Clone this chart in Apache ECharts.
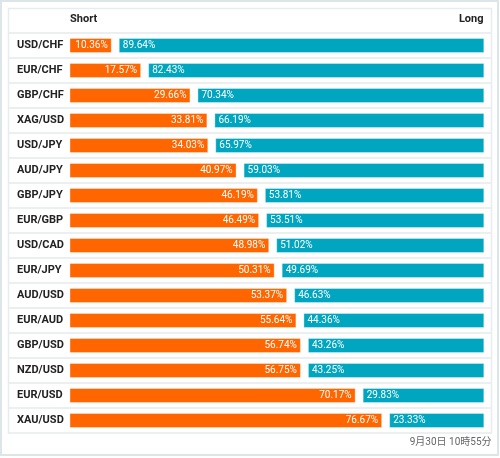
<!DOCTYPE html>
<html><head><meta charset="utf-8">
<script src="https://cdn.jsdelivr.net/npm/echarts@6/dist/echarts.min.js"></script>
<style>html,body{margin:0;padding:0;background:#fff}#c{width:500px;height:458px}</style>
</head><body><div id="c"></div>
<script>
const categories = ['USD/CHF','EUR/CHF','GBP/CHF','XAG/USD','USD/JPY','AUD/JPY','GBP/JPY','EUR/GBP','USD/CAD','EUR/JPY','AUD/USD','EUR/AUD','GBP/USD','NZD/USD','EUR/USD','XAU/USD'];
const shortValues = [10.36,17.57,29.66,33.81,34.03,40.97,46.19,46.49,48.98,50.31,53.37,55.64,56.74,56.75,70.17,76.67];
const longValues  = [89.64,82.43,70.34,66.19,65.97,59.03,53.81,53.51,51.02,49.69,46.63,44.36,43.26,43.25,29.83,23.33];
const headerShort = 'Short';
const headerLong = 'Long';
const timestamp = '9月30日 10時55分';

const GAP = 1.72; // visual spacer between the two bars (axis units)
const font = 'Roboto, "Noto Sans CJK JP", sans-serif';
const gridTop = 33, rowH = 25, n = categories.length;

const graphics = [
  {type:'rect', shape:{x:1,y:1,width:497,height:454}, style:{fill:'#fff', stroke:'#dde5e8', lineWidth:2}, z:-10},
  {type:'rect', shape:{x:8.5,y:8.5,width:483,height:424.5}, style:{fill:'#fff', stroke:'#e8ecee', lineWidth:1.5}, z:-9},
  {type:'text', left:70, top:14, style:{text:headerShort, font:'bold 11px '+font, fill:'#222'}},
  {type:'text', right:16.5, top:14, style:{text:headerLong, font:'bold 11px '+font, fill:'#222'}},
  {type:'text', right:8.5, top:437, style:{text:timestamp, font:'10px '+font, fill:'#666'}}
];
for (let i = 0; i < n; i++) {
  const y = gridTop + i*rowH;
  graphics.push({type:'line', shape:{x1:9,y1:y,x2:491,y2:y}, style:{stroke:'#eceff0', lineWidth:2}, z:-8});
}

const chart = echarts.init(document.getElementById('c'), null, {renderer:'canvas'});
chart.setOption({
  animation:false,
  textStyle:{fontFamily:font},
  grid:{left:69.5, right:15.7, top:gridTop, height:rowH*n, containLabel:false},
  xAxis:{type:'value', min:0, max:100+GAP, show:false},
  yAxis:{type:'category', data:categories, inverse:true,
    axisLine:{show:false}, axisTick:{show:false}, splitLine:{show:false},
    axisLabel:{align:'left', margin:52.5, fontSize:11, fontWeight:'bold', color:'#222', fontFamily:font}},
  graphic: graphics,
  series:[
    {name:'Short', type:'bar', stack:'s', data:shortValues, barWidth:15,
     itemStyle:{color:'#FF6600', borderColor:'rgba(255,255,255,0.35)', borderWidth:1},
     label:{show:true, position:'insideRight', distance:4, color:'#fff', fontSize:10, fontFamily:font,
       formatter: p => p.value.toFixed(2)+'%'}},
    {name:'gap', type:'bar', stack:'s', data:categories.map(()=>GAP), barWidth:15,
     itemStyle:{color:'rgba(0,0,0,0)'}, silent:true},
    {name:'Long', type:'bar', stack:'s', data:longValues, barWidth:15,
     itemStyle:{color:'#00A5BF', borderColor:'rgba(255,255,255,0.35)', borderWidth:1},
     label:{show:true, position:'insideLeft', distance:4, color:'#fff', fontSize:10, fontFamily:font,
       formatter: p => p.value.toFixed(2)+'%'}}
  ]
});
</script></body></html>
